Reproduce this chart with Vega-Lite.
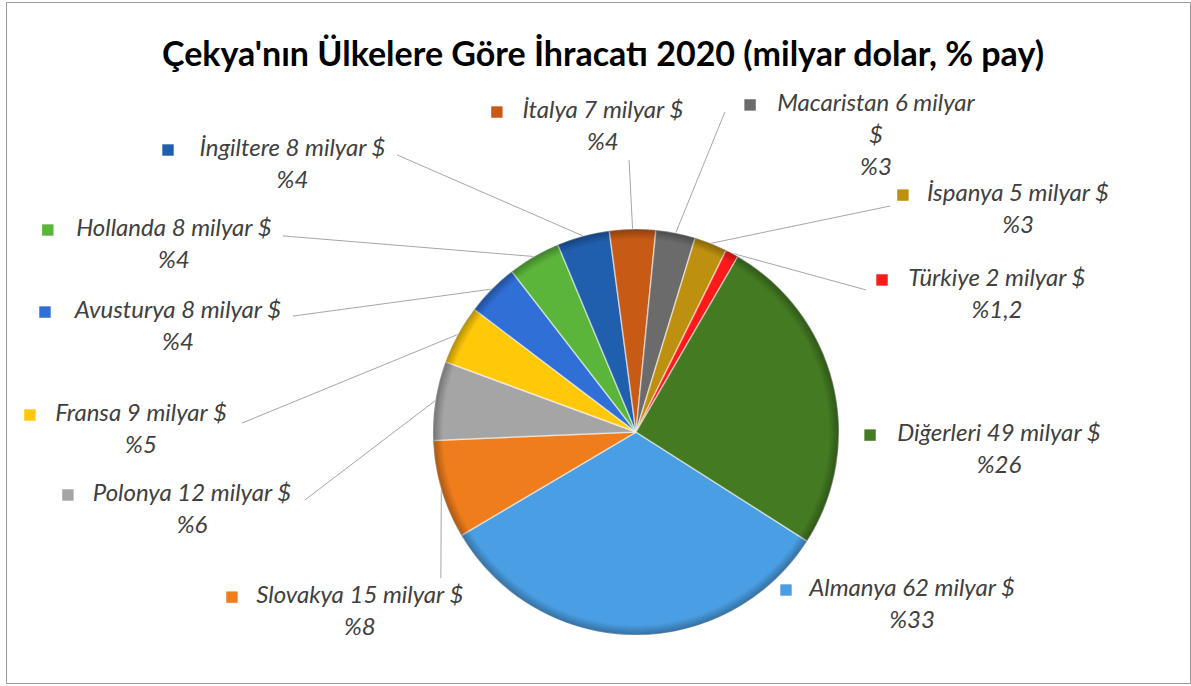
{
  "$schema": "https://vega.github.io/schema/vega-lite/v6.json",
  "width": 1184,
  "height": 681,
  "autosize": {"type": "none"},
  "padding": {"left": 6, "top": 2, "right": 1, "bottom": 3},
  "background": "white",
  "config": {"view": {"stroke": "#9a9a9a", "strokeWidth": 1}},
  "title": {
    "text": "Çekya'nın Ülkelere Göre İhracatı 2020 (milyar dolar, % pay)",
    "font": "Lato",
    "fontSize": 34,
    "fontWeight": "bold",
    "color": "#000000",
    "anchor": "middle",
    "frame": "group",
    "orient": "top",
    "offset": -98,
    "baseline": "alphabetic",
    "dx": 5
  },
  "resolve": {"scale": {"theta": "independent"}},
  "datasets": {
    "slices": [
      {"order": 1, "name": "Almanya", "value": 62, "label": ["Almanya 62 milyar $", "%33"], "lx": 1.360, "ly": -0.778, "kx": 0.739},
      {"order": 2, "name": "Slovakya", "value": 15, "label": ["Slovakya 15 milyar $", "%8"], "lx": -1.360, "ly": -0.813, "kx": -1.990, "ex": -0.961, "ey": -0.719},
      {"order": 3, "name": "Polonya", "value": 12, "label": ["Polonya 12 milyar $", "%6"], "lx": -2.187, "ly": -0.310, "kx": -2.798, "ex": -1.631, "ey": -0.335},
      {"order": 4, "name": "Fransa", "value": 9, "label": ["Fransa 9 milyar $", "%5"], "lx": -2.438, "ly": 0.084, "kx": -2.985, "ex": -1.941, "ey": 0.044},
      {"order": 5, "name": "Avusturya", "value": 8, "label": ["Avusturya 8 milyar $", "%4"], "lx": -2.256, "ly": 0.591, "kx": -2.911, "ex": -1.690, "ey": 0.571},
      {"order": 6, "name": "Hollanda", "value": 8, "label": ["Hollanda 8 milyar $", "%4"], "lx": -2.276, "ly": 0.995, "kx": -2.897, "ex": -1.739, "ey": 0.966},
      {"order": 7, "name": "İngiltere", "value": 8, "label": ["İngiltere 8 milyar $", "%4"], "lx": -1.692, "ly": 1.389, "kx": -2.305, "ex": -1.177, "ey": 1.365},
      {"order": 8, "name": "İtalya", "value": 7, "label": ["İtalya 7 milyar $", "%4"], "lx": -0.163, "ly": 1.576, "kx": -0.685, "ex": -0.034, "ey": 1.340},
      {"order": 9, "name": "Macaristan", "value": 6, "label": ["Macaristan 6 milyar", "$", "%3"], "lx": 1.182, "ly": 1.611, "kx": 0.562, "ex": 0.438, "ey": 1.576},
      {"order": 10, "name": "İspanya", "value": 5, "label": ["İspanya 5 milyar $", "%3"], "lx": 1.882, "ly": 1.167, "kx": 1.315, "ex": 1.251, "ey": 1.113},
      {"order": 11, "name": "Türkiye", "value": 2, "label": ["Türkiye 2 milyar $", "%1,2"], "lx": 1.778, "ly": 0.749, "kx": 1.212, "ex": 1.133, "ey": 0.700},
      {"order": 12, "name": "Diğerleri", "value": 49, "label": ["Diğerleri 49 milyar $", "%26"], "lx": 1.788, "ly": -0.015, "kx": 1.153}
    ]
  },
  "data": {"name": "slices"},
  "transform": [
    {"joinaggregate": [{"op": "sum", "field": "value", "as": "total"}]},
    {"window": [{"op": "sum", "field": "value", "as": "cum"}], "sort": [{"field": "order"}], "frame": [null, 0]},
    {"calculate": "2.138 + 2*PI*(datum.cum - datum.value/2)/datum.total", "as": "mid"},
    {"calculate": "sin(datum.mid)", "as": "px"},
    {"calculate": "cos(datum.mid)", "as": "py"}
  ],
  "layer": [
    {
      "transform": [{"filter": "isValid(datum.ex)"}],
      "mark": {"type": "rule", "color": "#A6A6A6", "strokeWidth": 1},
      "encoding": {
        "x": {"field": "ex", "type": "quantitative", "scale": {"domain": [-3.103, 2.729], "nice": false, "zero": false}, "axis": null},
        "y": {"field": "ey", "type": "quantitative", "scale": {"domain": [-1.236, 2.118], "nice": false, "zero": false}, "axis": null},
        "x2": {"field": "px"},
        "y2": {"field": "py"}
      }
    },
    {
      "mark": {"type": "arc", "radius": 203, "stroke": "#ffffff", "strokeOpacity": 0.5, "strokeWidth": 1.5},
      "encoding": {
        "theta": {"field": "value", "type": "quantitative", "stack": true, "scale": {"range": [2.138, 8.4212]}},
        "order": {"field": "order"},
        "color": {
          "field": "name",
          "type": "nominal",
          "legend": null,
          "scale": {
            "domain": ["Almanya", "Slovakya", "Polonya", "Fransa", "Avusturya", "Hollanda", "İngiltere", "İtalya", "Macaristan", "İspanya", "Türkiye", "Diğerleri"],
            "range": ["#4A9EE3", "#F07D1C", "#A5A5A5", "#FFC808", "#2F6FD6", "#5BB53A", "#1F5FAE", "#C75A14", "#6B6B6B", "#BE9010", "#FF1A1A", "#437A22"]
          }
        },
        "x": {"datum": 0, "type": "quantitative"},
        "y": {"datum": 0, "type": "quantitative"}
      }
    },
    {
      "data": {"values": [{"v": 1}]},
      "mark": {
        "type": "arc",
        "radius": 203,
        "fill": {
          "gradient": "radial",
          "x1": 0.5, "y1": 0.5, "r1": 0,
          "x2": 0.5, "y2": 0.5, "r2": 0.5,
          "stops": [
            {"offset": 0, "color": "rgba(0,0,0,0)"},
            {"offset": 0.95, "color": "rgba(0,0,0,0)"},
            {"offset": 1, "color": "rgba(0,0,0,0.3)"}
          ]
        }
      },
      "encoding": {
        "theta": {"field": "v", "type": "quantitative", "scale": {"domain": [0, 1], "range": [0, 6.2832]}},
        "x": {"datum": 0, "type": "quantitative"},
        "y": {"datum": 0, "type": "quantitative"}
      }
    },
    {
      "mark": {"type": "point", "shape": "square", "filled": true, "size": 130, "opacity": 1},
      "encoding": {
        "x": {"field": "kx", "type": "quantitative"},
        "y": {"field": "ly", "type": "quantitative"},
        "color": {"field": "name", "type": "nominal"}
      }
    },
    {
      "mark": {"type": "text", "font": "Lato", "fontStyle": "italic", "fontSize": 24, "color": "#404040", "align": "center", "baseline": "top", "dy": -13, "lineHeight": 32},
      "encoding": {
        "x": {"field": "lx", "type": "quantitative"},
        "y": {"field": "ly", "type": "quantitative"},
        "text": {"field": "label"}
      }
    }
  ]
}
